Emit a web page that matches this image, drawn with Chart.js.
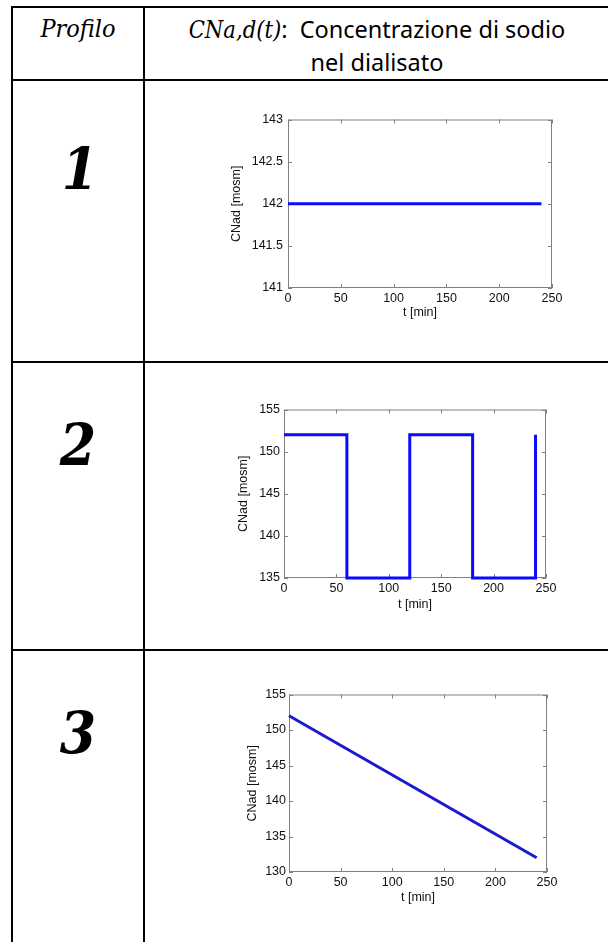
<!DOCTYPE html>
<html>
<head>
<meta charset="utf-8">
<script src="https://cdn.jsdelivr.net/npm/chart.js@4/dist/chart.umd.min.js"></script>
<style>
    html, body { margin: 0; padding: 0; background: #fff; }
    body { width: 608px; height: 942px; position: relative; overflow: hidden; }
    .hl { position: absolute; left: 11px; width: 597px; height: 2px; background: #000; }
    .vl { position: absolute; top: 6px; width: 2px; height: 936px; background: #000; }
    .cell { position: absolute; text-align: center; white-space: nowrap; color: #000; }
    .serif { font-family: "DejaVu Serif Condensed", "DejaVu Serif", serif; font-style: italic; }
    .sans { font-family: "Noto Sans", "Open Sans", sans-serif; }
    .num { font-family: "DejaVu Serif Condensed", "DejaVu Serif", serif; font-style: italic; font-weight: bold; font-size: 58px; line-height: 64px; }
    .plot { position: absolute; }
</style>
</head>
<body>

<div class="hl" style="top:6px"></div>
<div class="hl" style="top:79px"></div>
<div class="hl" style="top:361px"></div>
<div class="hl" style="top:649px"></div>
<div class="vl" style="left:11px"></div>
<div class="vl" style="left:143px"></div>

<div class="cell serif" style="left:13px; width:130px; top:13px; font-size:25px; line-height:32px;">Profilo</div>
<div class="cell" style="left:145px; width:464px; top:13px; font-size:23.5px; line-height:32px;">
    <span class="serif">CNa,d(t)</span><span class="sans">:&nbsp; Concentrazione di sodio</span><br>
    <span class="sans">nel dialisato</span>
</div>

<div class="cell num" style="left:15px; width:130px; top:137px;">1</div>
<div class="cell num" style="left:13px; width:130px; top:413px;">2</div>
<div class="cell num" style="left:13px; width:130px; top:701px;">3</div>

<canvas id="chart1" class="plot"></canvas>
<canvas id="chart2" class="plot"></canvas>
<canvas id="chart3" class="plot"></canvas>

<script>
// =========================
// DATI
// =========================
const timeTicks = [0, 50, 100, 150, 200, 250];

// profilo 1: costante
const time1 = [0, 240];
const sodium1 = [142, 142];
const sodiumTicks1 = [141, 141.5, 142, 142.5, 143];

// profilo 2: onda quadra
const time2 = [0, 60, 60, 120, 120, 180, 180, 240, 240];
const sodium2 = [152, 152, 135, 135, 152, 152, 135, 135, 152];
const sodiumTicks2 = [135, 140, 145, 150, 155];

// profilo 3: rampa lineare
const time3 = [0, 240];
const sodium3 = [152, 132];
const sodiumTicks3 = [130, 135, 140, 145, 150, 155];

// =========================
// STILE
// =========================
const FONT = { family: "'Liberation Sans', Arial, sans-serif", size: 12.5 };
const LH = FONT.size * 1.2;
const TEXT = "#111";
const BOX = "#808080";

// riquadro tipo Matlab con tacche interne
const matlabBox = {
    id: "matlabBox",
    beforeDatasetsDraw(chart) {
        const { ctx, chartArea: a, scales: { x, y } } = chart;
        ctx.save();
        ctx.strokeStyle = BOX;
        ctx.lineWidth = 1;
        ctx.strokeRect(a.left + 0.5, a.top + 0.5, a.right - a.left - 1, a.bottom - a.top - 1);
        ctx.beginPath();
        x.ticks.forEach(t => {
            const px = Math.round(x.getPixelForValue(t.value)) + 0.5;
            ctx.moveTo(px, a.bottom); ctx.lineTo(px, a.bottom - 4);
            ctx.moveTo(px, a.top); ctx.lineTo(px, a.top + 4);
        });
        y.ticks.forEach(t => {
            const py = Math.round(y.getPixelForValue(t.value)) + 0.5;
            ctx.moveTo(a.left, py); ctx.lineTo(a.left + 4, py);
            ctx.moveTo(a.right, py); ctx.lineTo(a.right - 4, py);
        });
        ctx.stroke();
        ctx.restore();
    }
};

function makeChart(id, times, values, yTicks, color, geo) {
    const canvas = document.getElementById(id);
    const left = Math.round(geo.yTitleX - LH / 2);
    const top = geo.t - 10;
    const right = geo.r + 16;
    const bottom = Math.round(geo.xTitleY + LH / 2);
    const yWidth = geo.l - left;
    const xHeight = bottom - geo.b;

    canvas.width = right - left;
    canvas.height = bottom - top;
    canvas.style.left = left + "px";
    canvas.style.top = top + "px";

    return new Chart(canvas, {
        type: "line",
        data: {
            datasets: [{
                data: times.map((t, i) => ({ x: t, y: values[i] })),
                borderColor: color,
                borderWidth: 3,
                pointRadius: 0,
                tension: 0,
                clip: false
            }]
        },
        options: {
            responsive: false,
            animation: false,
            devicePixelRatio: 1,
            layout: { padding: { top: 10, right: 16, left: 0, bottom: 0 } },
            plugins: { legend: { display: false }, tooltip: { enabled: false } },
            scales: {
                x: {
                    type: "linear",
                    min: timeTicks[0],
                    max: timeTicks[timeTicks.length - 1],
                    afterBuildTicks: s => { s.ticks = timeTicks.map(v => ({ value: v })); },
                    afterFit: s => { s.height = xHeight; },
                    grid: { display: false, drawTicks: false },
                    border: { display: false },
                    ticks: { padding: geo.xTickGap, color: TEXT, font: FONT, maxRotation: 0, autoSkip: false },
                    title: { display: true, text: "t [min]", color: TEXT, font: FONT, padding: 0 }
                },
                y: {
                    type: "linear",
                    min: yTicks[0],
                    max: yTicks[yTicks.length - 1],
                    afterBuildTicks: s => { s.ticks = yTicks.map(v => ({ value: v })); },
                    afterFit: s => { s.width = yWidth; },
                    grid: { display: false, drawTicks: false },
                    border: { display: false },
                    ticks: { padding: geo.yTickGap, color: TEXT, font: FONT, callback: v => String(v) },
                    title: { display: true, text: "CNad [mosm]", color: TEXT, font: FONT, padding: 0 }
                }
            }
        },
        plugins: [matlabBox]
    });
}

// =========================
// INIT
// =========================
makeChart("chart1", time1, sodium1, sodiumTicks1, "#0a0aff",
    { l: 288, r: 552, t: 117, b: 288, yTitleX: 236, yTickGap: 5, xTickGap: 3, xTitleY: 312 });
makeChart("chart2", time2, sodium2, sodiumTicks2, "#0a0aff",
    { l: 284, r: 546, t: 408, b: 578, yTitleX: 243, yTickGap: 4, xTickGap: 3, xTitleY: 604 });
makeChart("chart3", time3, sodium3, sodiumTicks3, "#1a1ad0",
    { l: 289, r: 547, t: 694, b: 872, yTitleX: 252, yTickGap: 3, xTickGap: 3, xTitleY: 897 });
</script>
</body>
</html>
